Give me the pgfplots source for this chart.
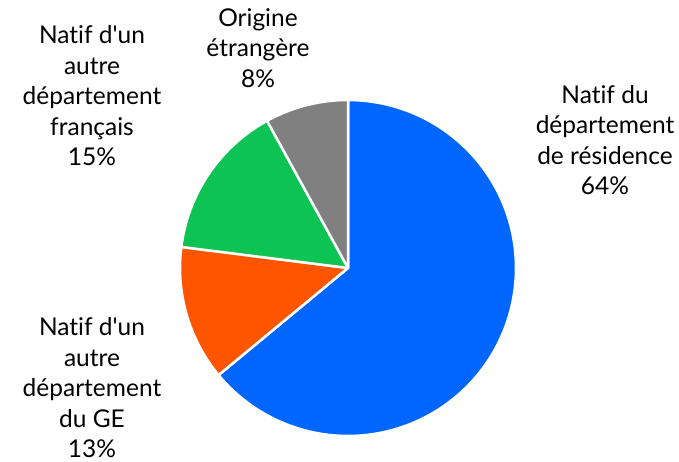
\documentclass[border=0pt]{standalone}
\usepackage{fontspec}
\setmainfont{Lato}[Ligatures={NoCommon}]
\usepackage{pgfplots}
\pgfplotsset{compat=1.18}
\definecolor{cBlue}{HTML}{0066FF}
\definecolor{cOrange}{HTML}{FF5500}
\definecolor{cGreen}{HTML}{0DC353}
\definecolor{cGray}{HTML}{808080}
% shares (percent), clockwise from top
\def\pA{64}\def\pB{13}\def\pC{15}\def\pD{8}
\begin{document}
\begin{tikzpicture}
\pgfmathsetmacro\aA{90}
\pgfmathsetmacro\aB{\aA-3.6*\pA}
\pgfmathsetmacro\aC{\aB-3.6*\pB}
\pgfmathsetmacro\aD{\aC-3.6*\pC}
\pgfmathsetmacro\aE{\aD-3.6*\pD}
\begin{axis}[x=1pt,y=1pt,xmin=-348,xmax=331,ymin=-194,ymax=268,
  hide axis, clip=false, axis line style={draw=none}]
\path (axis cs:-348,-194) rectangle (axis cs:331,268);
\addplot[fill=cBlue, draw=white, line width=2.5pt, line join=round, data cs=polar, domain=\aB:\aA, samples=120] {168} -- (axis cs:0,0) -- cycle;
\addplot[fill=cOrange, draw=white, line width=2.5pt, line join=round, data cs=polar, domain=\aC:\aB, samples=40] {168} -- (axis cs:0,0) -- cycle;
\addplot[fill=cGreen, draw=white, line width=2.5pt, line join=round, data cs=polar, domain=\aD:\aC, samples=40] {168} -- (axis cs:0,0) -- cycle;
\addplot[fill=cGray, draw=white, line width=2.5pt, line join=round, data cs=polar, domain=\aE:\aD, samples=30] {168} -- (axis cs:0,0) -- cycle;
\tikzset{lab/.style={align=center, font=\fontsize{24.5}{30.5}\selectfont, text=black, inner sep=0pt}}
\node[lab] at (axis cs:257,128) {Natif du\\département\\de résidence\\64\%};
\node[lab] at (axis cs:-90,220) {Origine\\étrangère\\8\%};
\node[lab] at (axis cs:-256,172) {Natif d\textquotesingle un\\autre\\département\\français\\15\%};
\node[lab] at (axis cs:-256,-120) {Natif d\textquotesingle un\\autre\\département\\du GE\\13\%};
\end{axis}
\end{tikzpicture}
\end{document}
